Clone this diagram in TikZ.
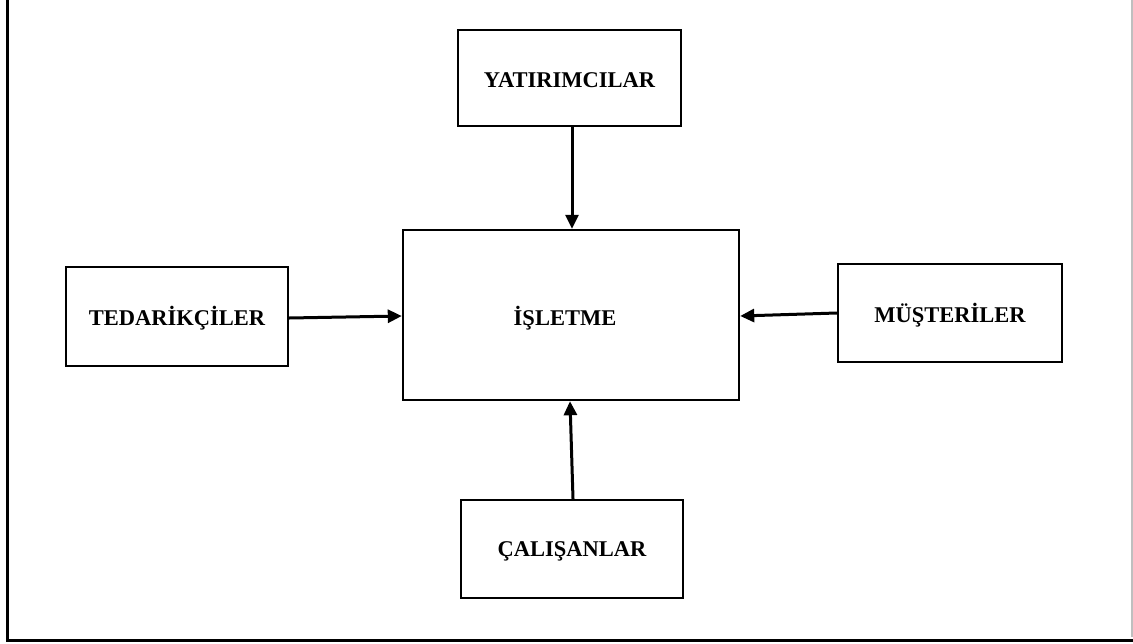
\documentclass[tikz,border=0pt]{standalone}
\usepackage{fontspec}
\setmainfont{Liberation Serif}
\usetikzlibrary{arrows.meta}
\begin{document}
\begin{tikzpicture}[x=1pt,y=-1pt,
  lbl/.style={font=\bfseries\fontsize{22.5}{26}\selectfont,inner sep=0pt},
  box/.style={draw,line width=2.4pt,inner sep=0pt},
  conn/.style={line width=3pt,-{Triangle[length=14pt,width=13pt]}}]
\useasboundingbox (0,0) rectangle (1133,643);
% outer frame
\draw[line width=3pt] (7,0) -- (7,640) -- (1133,640);
\draw[line width=2pt,gray!50] (1132,0) -- (1132,637);
% boxes
\node[box,minimum width=223pt,minimum height=96pt] (yat) at (569.5,78) {};
\node[lbl] (yatt) at (569.5,80) {YATIRIMCILAR};
\node[box,minimum width=336pt,minimum height=170pt] (isl) at (571,315) {};
\node[lbl] (islt) at (565,318) {İŞLETME};
\node[box,minimum width=222pt,minimum height=99pt] (ted) at (177,316.5) {};
\node[lbl] (tedt) at (177,318) {TEDARİKÇİLER};
\node[box,minimum width=224pt,minimum height=98pt] (mus) at (950,313) {};
\node[lbl] (must) at (950,315) {MÜŞTERİLER};
\node[box,minimum width=222pt,minimum height=98pt] (cal) at (572,549) {};
\node[lbl] (calt) at (572,551) {ÇALIŞANLAR};
% connectors
\draw[conn] (yat.south -| 572,0) -- (isl.north -| 572,0);
\draw[conn] (ted.east |- 0,318) -- (isl.west |- 0,316);
\draw[conn] (mus.west |- 0,313) -- (isl.east |- 0,316);
\draw[conn] (cal.north -| 573,0) -- (isl.south -| 570,0);
\end{tikzpicture}
\end{document}
